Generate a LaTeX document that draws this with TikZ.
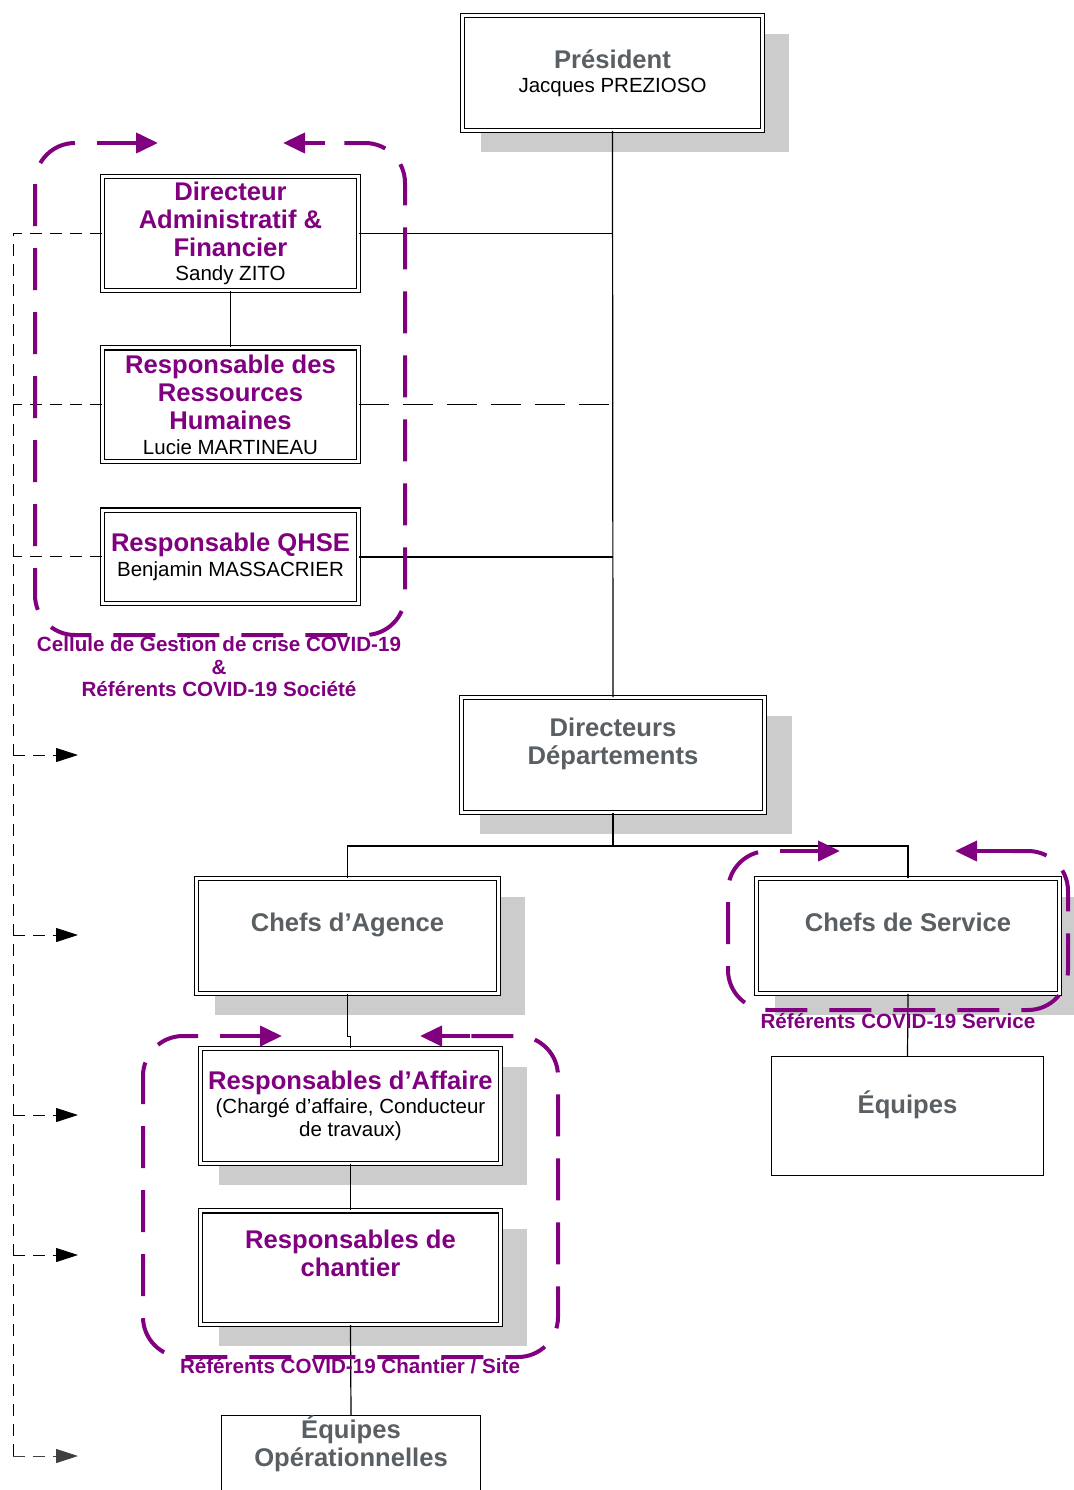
\documentclass[tikz,border=0pt]{standalone}
\usepackage{fontspec}
\setmainfont{Liberation Sans}
\usetikzlibrary{positioning, arrows.meta, shadows, calc}
\definecolor{violetcov}{RGB}{128,0,128}
\definecolor{gristitre}{RGB}{89,95,99}
\definecolor{grisombre}{RGB}{204,204,204}
\newcommand{\titrefont}{\fontsize{12.8}{14.1}\selectfont\bfseries}
\newcommand{\nomfont}{\fontsize{10.25}{11.5}\selectfont\mdseries\color{black}}
\newcommand{\cellfont}{\fontsize{10.3}{11.3}\selectfont\bfseries}

\begin{document}
\begin{tikzpicture}[x=0.5pt, y=-0.5pt,
    poste/.style={draw, double, double distance=1.5pt, line width=0.6pt, fill=white, align=center, inner sep=0pt, font=\titrefont},
    ombre/.style={drop shadow={shadow scale=1.03, shadow xshift=11pt, shadow yshift=-9.8pt, fill=grisombre, opacity=1}},
    simple/.style={draw, line width=0.6pt, fill=white, align=center, inner sep=0pt, font=\titrefont, text=gristitre},
    lien/.style={line width=0.6pt},
    pointille/.style={line width=0.5pt, dash pattern=on 6pt off 4pt},
    renvoi/.style={pointille, -{Triangle[length=11pt,width=7pt]}},
    cellule/.style={draw=violetcov, line width=2pt, dash pattern=on 21pt off 11pt, dash phase=21pt, rounded corners=20pt},
    fleche/.style={violetcov, line width=2pt, -{Triangle[length=11pt,width=10pt]}},
    referent/.style={text=violetcov, font=\cellfont, align=center, inner sep=0pt}]
  \useasboundingbox (0,0) rectangle (1073,1490);

  % direction
  \node[poste, ombre, text=gristitre, minimum width=149.8pt, minimum height=57.3pt] (pres) at (612.5,73) {Président\\[-2pt]\nomfont Jacques PREZIOSO};

  % cellule de crise
  \node[poste, text=violetcov, minimum width=127.8pt, minimum height=56.8pt] (daf) at (230.5,233.5) {Directeur\\Administratif \&\\Financier\\[-2pt]\nomfont Sandy ZITO};
  \node[poste, text=violetcov, minimum width=127.8pt, minimum height=56.8pt, below=28.2pt of daf] (rrh) {Responsable des\\Ressources\\Humaines\\[-2pt]\nomfont Lucie MARTINEAU};
  \node[poste, text=violetcov, minimum width=127.8pt, minimum height=46.8pt, below=23.7pt of rrh] (qhse) {Responsable QHSE\\[-2pt]\nomfont Benjamin MASSACRIER};

  % departements
  \node[poste, ombre, text=gristitre, minimum width=151.3pt, minimum height=57.3pt] (dirdep) at (613,755) {Directeurs\\Départements\\\mbox{}};
  \node[poste, ombre, text=gristitre, minimum width=150.8pt, minimum height=57.3pt] (chefag) at (347.5,936) {Chefs d’Agence\\\mbox{}};
  \node[poste, ombre, text=gristitre, minimum width=151.3pt, minimum height=57.3pt] (chefsv) at (908,936) {Chefs de Service\\\mbox{}};
  \node[simple, minimum width=135.9pt, minimum height=59.4pt] (equipes) at (907.5,1116) {Équipes\\\mbox{}};

  % chantier
  \node[poste, ombre, text=violetcov, minimum width=149.8pt, minimum height=57.3pt] (ra) at (350.5,1106) {Responsables d’Affaire\\[-2.5pt]\nomfont (Chargé d’affaire, Conducteur\\[-2.5pt]\nomfont de travaux)};
  \node[poste, ombre, text=violetcov, minimum width=149.8pt, minimum height=56.8pt, below=23.2pt of ra] (rc) {Responsables de\\chantier\\\mbox{}};
  \node[simple, minimum width=129.4pt, minimum height=59.4pt] (eqop) at (351,1476) {Équipes\\Opérationnelles\\[21pt]\mbox{}};

  % liens hierarchiques
  \draw[lien] (pres.south) -- (dirdep.north);
  \draw[lien] (daf.east) -- (daf.east -| pres.south);
  \draw[lien, dash pattern=on 15pt off 7pt] (rrh.east) -- (rrh.east -| pres.south);
  \draw[lien] (qhse.east) -- (qhse.east -| pres.south);
  \draw[lien] (daf.south) -- (rrh.north);
  \coordinate (split) at (613,846);
  \draw[lien] (dirdep.south) -- (split);
  \draw[lien] (chefag.north) |- (split) -| (chefsv.north);
  \draw[lien] (chefag.south) |- ($(ra.north)+(0,-12)$) -| (ra.north);
  \draw[lien] (ra.south) -- (rc.north);
  \draw[lien] (rc.south) -- (eqop.north);
  \draw[lien] (chefsv.south) -- (equipes.north);

  % diffusion a gauche
  \coordinate (rail) at (13,234);
  \coordinate (railbas) at (13,1456);
  \coordinate (finbas) at (78,1456);
  \draw[pointille] (daf.west) -| (railbas);
  \draw[pointille] (rrh.west) -- (rrh.west -| rail);
  \draw[pointille] (qhse.west) -- (qhse.west -| rail);
  \foreach \y [count=\i] in {755,935,1115,1255} {
    \coordinate (bout\i) at (78,\y);
    \draw[renvoi] (bout\i -| rail) -- (bout\i);
  }
  \draw[renvoi, black!75] (railbas) -- (finbas);

  % referents COVID-19
  \draw[cellule] (97,143) -| (35,635) -| (405,143) -- (325,143);
  \draw[fleche] (97,143) -- (158,143);
  \draw[fleche] (325,143) -- (283,143);
  \node[referent] (crise) at (219,667) {Cellule de Gestion de crise COVID-19\\\&\\Référents COVID-19 Société};

  \draw[cellule] (780,851) -| (728,1010) -| (1068,851) -- (1012,851);
  \draw[fleche] (780,851) -- (840,851);
  \draw[fleche] (1012,851) -- (955,851);
  \node[referent] (refsv) at (898,1021) {Référents COVID-19 Service};

  \draw[cellule] (220,1036) -| (143,1357) -| (558,1036) -- (470,1036);
  \draw[fleche] (220,1036) -- (282,1036);
  \draw[fleche] (470,1036) -- (420,1036);
  \node[referent] (refch) at (350,1366) {Référents COVID-19 Chantier / Site};
\end{tikzpicture}
\end{document}
